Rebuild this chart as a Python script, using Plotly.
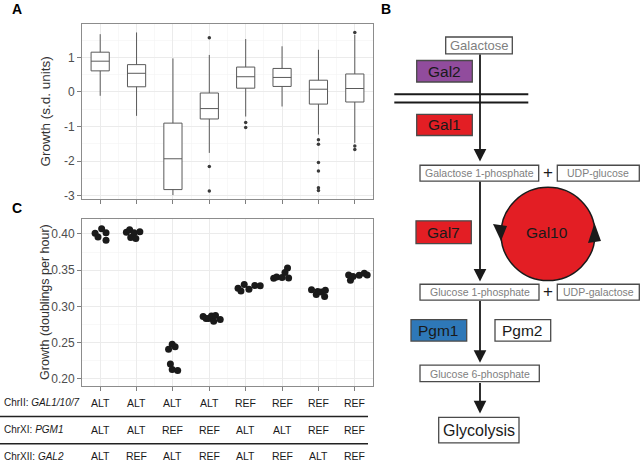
import plotly.graph_objects as go

# ---------------- data ----------------
groups = [1, 2, 3, 4, 5, 6, 7, 8]

# Panel A: box statistics (s.d. units)
box_q1 = [0.61, 0.15, -2.82, -0.78, 0.11, 0.16, -0.35, -0.29]
box_median = [0.89, 0.54, -1.93, -0.48, 0.44, 0.42, 0.08, 0.10]
box_q3 = [1.15, 0.79, -0.90, -0.03, 0.72, 0.68, 0.34, 0.52]
box_lower = [-0.11, -0.69, -2.98, -1.76, -0.71, -0.42, -1.23, -1.47]
box_upper = [1.67, 1.72, 0.97, 1.07, 1.53, 1.32, 1.22, 1.65]

outlier_group = [4, 4, 4, 5, 5, 7, 7, 7, 7, 7, 7, 8, 8, 8]
outlier_value = [1.57, -2.15, -2.86, -0.88, -1.03, -1.38, -1.51, -2.04, -2.28,
                 -2.77, -2.85, 1.72, -1.56, -1.66]

a_ticks = [-3, -2, -1, 0, 1]
a_ticktext = ["-3", "-2", "-1", "0", "1"]

# Panel C: growth (doublings per hour), replicate points per genotype
growth_c = [
    [0.4009, 0.3959, 0.4073, 0.4018, 0.3913],
    [0.4023, 0.4059, 0.3950, 0.4018, 0.3936, 0.4032],
    [0.2410, 0.2205, 0.2478, 0.2132, 0.2446, 0.2118],
    [0.2861, 0.2834, 0.2834, 0.2870, 0.2797, 0.2875, 0.2820],
    [0.3253, 0.3212, 0.3303, 0.3239, 0.3289, 0.3285],
    [0.3390, 0.3408, 0.3399, 0.3467, 0.3531, 0.3394],
    [0.3230, 0.3166, 0.3207, 0.3198, 0.3225, 0.3139],
    [0.3435, 0.3362, 0.3412, 0.3431, 0.3458, 0.3435],
]
jitter_c = [
    [-0.14, -0.06, 0.04, 0.16, 0.16],
    [-0.28, -0.19, -0.16, -0.07, -0.02, 0.09],
    [-0.12, -0.07, -0.02, -0.02, 0.06, 0.13],
    [-0.17, -0.09, -0.02, 0.06, 0.12, 0.17, 0.30],
    [-0.21, -0.13, -0.04, 0.09, 0.25, 0.40],
    [-0.23, -0.15, 0.00, 0.08, 0.15, 0.18],
    [-0.19, -0.06, -0.02, 0.08, 0.19, 0.17],
    [-0.17, -0.12, -0.05, 0.12, 0.26, 0.34],
]

# Genotype table
row_labels = ["ChrII: <i>GAL1/10/7</i>", "ChrXI: <i>PGM1</i>", "ChrXII: <i>GAL2</i>"]
geno_gal = ["ALT", "ALT", "ALT", "ALT", "REF", "REF", "REF", "REF"]
geno_pgm1 = ["ALT", "ALT", "REF", "REF", "ALT", "ALT", "REF", "REF"]
geno_gal2 = ["ALT", "REF", "ALT", "REF", "ALT", "REF", "ALT", "REF"]

W, H = 640, 465
FONT = "Liberation Sans, Arial, Helvetica, sans-serif"
NARROW = "Liberation Sans Narrow, Arial Narrow, Liberation Sans, Arial, sans-serif"


def P(x):
    return x / W


def Q(y):
    return 1 - y / H


fig = go.Figure()

# ---------------- Panel A ----------------
fig.add_trace(go.Box(
    x=groups, q1=box_q1, median=box_median, q3=box_q3,
    lowerfence=box_lower, upperfence=box_upper,
    width=0.5, whiskerwidth=0, boxpoints=False,
    fillcolor="white", line=dict(color="#5a5a5a", width=1),
    xaxis="x", yaxis="y", hoverinfo="skip",
))
fig.add_trace(go.Scatter(
    x=outlier_group, y=outlier_value, mode="markers",
    marker=dict(size=3.5, color="#3a3a3a"),
    xaxis="x", yaxis="y", hoverinfo="skip",
))

# ---------------- Panel C ----------------
xs, ys = [], []
for g, vals, jit in zip(groups, growth_c, jitter_c):
    for v, j in zip(vals, jit):
        xs.append(g + j)
        ys.append(v)
fig.add_trace(go.Scatter(
    x=xs, y=ys, mode="markers",
    marker=dict(size=7, color="#1a1a1a"),
    xaxis="x2", yaxis="y2", hoverinfo="skip",
))

grid = "#ebebeb"
frame = "#8c8c8c"
tickfont = dict(family=FONT, size=12, color="#4d4d4d")

xcommon = dict(
    range=[0.5, 8.5], tickvals=groups, ticktext=[""] * 8,
    showgrid=True, gridcolor=grid, gridwidth=1,
    minor=dict(tick0=0.5, dtick=1, showgrid=True, gridcolor="#f3f3f3", gridwidth=0.6, ticks=""),
    showline=True, mirror=True, linecolor=frame, linewidth=1,
    ticks="outside", ticklen=4, tickcolor="#7f7f7f", zeroline=False,
    domain=[P(82), P(373)],
)
fig.update_layout(
    xaxis=dict(**xcommon, anchor="y"),
    xaxis2=dict(**xcommon, anchor="y2"),
    yaxis=dict(
        range=[-3.1, 1.97], tickvals=a_ticks, ticktext=a_ticktext,
        domain=[Q(201), Q(24)], anchor="x",
        showgrid=True, gridcolor=grid, gridwidth=1,
        minor=dict(dtick=0.5, tick0=0, showgrid=True, gridcolor="#f3f3f3", gridwidth=0.6, ticks=""),
        showline=True, mirror=True, linecolor=frame, linewidth=1,
        ticks="outside", ticklen=4, tickcolor="#7f7f7f", zeroline=False,
        tickfont=tickfont,
    ),
    yaxis2=dict(
        range=[0.1904, 0.4209], dtick=0.05, tick0=0, tickformat=".2f",
        domain=[Q(389.3), Q(220.7)], anchor="x2",
        showgrid=True, gridcolor=grid, gridwidth=1,
        minor=dict(dtick=0.025, tick0=0, showgrid=True, gridcolor="#f3f3f3", gridwidth=0.6, ticks=""),
        showline=True, mirror=True, linecolor=frame, linewidth=1,
        ticks="outside", ticklen=4, tickcolor="#7f7f7f", zeroline=False,
        tickfont=tickfont,
    ),
)

annotations = []
shapes = []

# axis titles
annotations.append(dict(text="Growth (s.d. units)", x=P(46), y=Q(112.5), xref="paper", yref="paper",
                        textangle=-90, showarrow=False, font=dict(family=FONT, size=13.5, color="#333333"),
                        xanchor="center", yanchor="middle"))
annotations.append(dict(text="Growth (doublings per hour)", x=P(45.5), y=Q(305), xref="paper", yref="paper",
                        textangle=-90, showarrow=False, font=dict(family=FONT, size=12.5, color="#333333"),
                        xanchor="center", yanchor="middle"))

# panel letters
for lab, lx, ly in [("A", 17, 9), ("B", 386, 9), ("C", 17, 210)]:
    annotations.append(dict(text="<b>%s</b>" % lab, x=P(lx), y=Q(ly), xref="paper", yref="paper",
                            showarrow=False, font=dict(family=NARROW, size=14, color="black"),
                            xanchor="center", yanchor="middle"))

# ---------------- Genotype table ----------------
row_y = [406.3, 433.7, 460.2]
tfont = dict(family=FONT, size=10.5, color="#1a1a1a")
lfont = dict(family=FONT, size=10, color="#1a1a1a")
for lab, ry, geno in zip(row_labels, row_y, [geno_gal, geno_pgm1, geno_gal2]):
    annotations.append(dict(text=lab, x=P(1.5), y=Q(ry), xref="paper", yref="paper",
                            showarrow=False, font=lfont, xanchor="left", yanchor="middle"))
    for g, val in zip(groups, geno):
        annotations.append(dict(text=val, x=g, y=Q(ry), xref="x2", yref="paper",
                                showarrow=False, font=tfont, xanchor="center", yanchor="middle"))
for ly in [420, 447.7]:
    shapes.append(dict(type="line", xref="paper", yref="paper", x0=0, x1=P(368), y0=Q(ly), y1=Q(ly),
                       line=dict(color="#222222", width=1.5)))

# ---------------- Panel B: pathway diagram ----------------
def box(x0, y0, x1, y1, fill="white", border="#4a4a4a"):
    shapes.append(dict(type="rect", xref="paper", yref="paper",
                       x0=P(x0), x1=P(x1), y0=Q(y1), y1=Q(y0),
                       fillcolor=fill, line=dict(color=border, width=1.3), layer="above"))


def label(txt, x, y, size, color):
    annotations.append(dict(text=txt, x=P(x), y=Q(y), xref="paper", yref="paper", showarrow=False,
                            font=dict(family=FONT, size=size, color=color),
                            xanchor="center", yanchor="middle"))


def arrow(x, y_from, y_to):
    annotations.append(dict(text="", x=P(x), y=Q(y_to), xref="paper", yref="paper",
                            ax=0, ay=-(y_to - y_from), axref="pixel", ayref="pixel",
                            showarrow=True, arrowhead=2, arrowsize=1.4, arrowwidth=1.8,
                            arrowcolor="#1a1a1a", standoff=0))


RED = "#e31e24"
PURPLE = "#914c9d"
BLUE = "#2e78b8"
GRAYTXT = "#808080"

# membrane
for my in [95, 103.3]:
    shapes.append(dict(type="line", xref="paper", yref="paper", x0=P(394.3), x1=P(528.3),
                       y0=Q(my), y1=Q(my), line=dict(color="#1a1a1a", width=2)))

arrow(480, 54.3, 163)
arrow(480, 182.7, 284)
arrow(480, 302.7, 366)
arrow(480, 385, 417)

# Gal10 cycle
shapes.append(dict(type="circle", xref="paper", yref="paper", x0=P(501), x1=P(595),
                   y0=Q(283), y1=Q(189), fillcolor=RED, line=dict(color="#1a1a1a", width=1.5)))
shapes.append(dict(type="path", xref="paper", yref="paper", fillcolor="#1a1a1a", line=dict(width=0),
                   path="M %f %f L %f %f L %f %f Z" % (P(493), Q(226), P(507), Q(228), P(501), Q(243))))
shapes.append(dict(type="path", xref="paper", yref="paper", fillcolor="#1a1a1a", line=dict(width=0),
                   path="M %f %f L %f %f L %f %f Z" % (P(594.5), Q(225), P(588), Q(245), P(601), Q(243))))

box(445.7, 37.3, 512.3, 54.3)
box(416.7, 61, 472.3, 82.7, fill=PURPLE)
box(416.7, 115.3, 472.3, 136.7, fill=RED)
box(420, 166.7, 538.7, 182.7)
box(557.3, 166.7, 639.3, 182.7)
box(416, 222.7, 471.3, 245.7, fill=RED)
box(420, 286.7, 539, 302.7)
box(557.3, 286.7, 639.3, 302.7)
box(411, 322.3, 466.7, 344, fill=BLUE)
box(495, 322.3, 550.7, 344)
box(420, 368.3, 539.3, 385)
box(438.7, 421, 519, 446.7)

label("Galactose", 479, 46, 13, GRAYTXT)
label("Gal2", 444.5, 72, 15.5, "#1a1a1a")
label("Gal1", 444.5, 126, 15.5, "#1a1a1a")
label("Galactose 1-phosphate", 479.3, 175, 10.5, GRAYTXT)
label("+", 548.3, 174, 17, "#1a1a1a")
label("UDP-glucose", 598.3, 175, 10.5, GRAYTXT)
label("Gal7", 443.7, 234.5, 15.5, "#1a1a1a")
label("Gal10", 546.7, 235, 15.5, "#1a1a1a")
label("Glucose 1-phosphate", 479.5, 295, 10.5, GRAYTXT)
label("+", 548.3, 294, 17, "#1a1a1a")
label("UDP-galactose", 598.3, 295, 10.5, GRAYTXT)
label("Pgm1", 438.8, 333.5, 15.5, "#1a1a1a")
label("Pgm2", 522.8, 333.5, 15.5, "#1a1a1a")
label("Glucose 6-phosphate", 479.6, 377, 10.5, GRAYTXT)
label("Glycolysis", 478.8, 434.2, 16, "#1a1a1a")

fig.update_layout(
    width=W, height=H, margin=dict(l=0, r=0, t=0, b=0),
    paper_bgcolor="white", plot_bgcolor="white", showlegend=False,
    annotations=annotations, shapes=shapes,
    font=dict(family=FONT),
)

fig.write_html("out.html",
               config={"displayModeBar": False, "staticPlot": True},
               post_script="document.body.style.margin='0';document.body.style.padding='0';"
                           "document.body.style.overflow='hidden';")
